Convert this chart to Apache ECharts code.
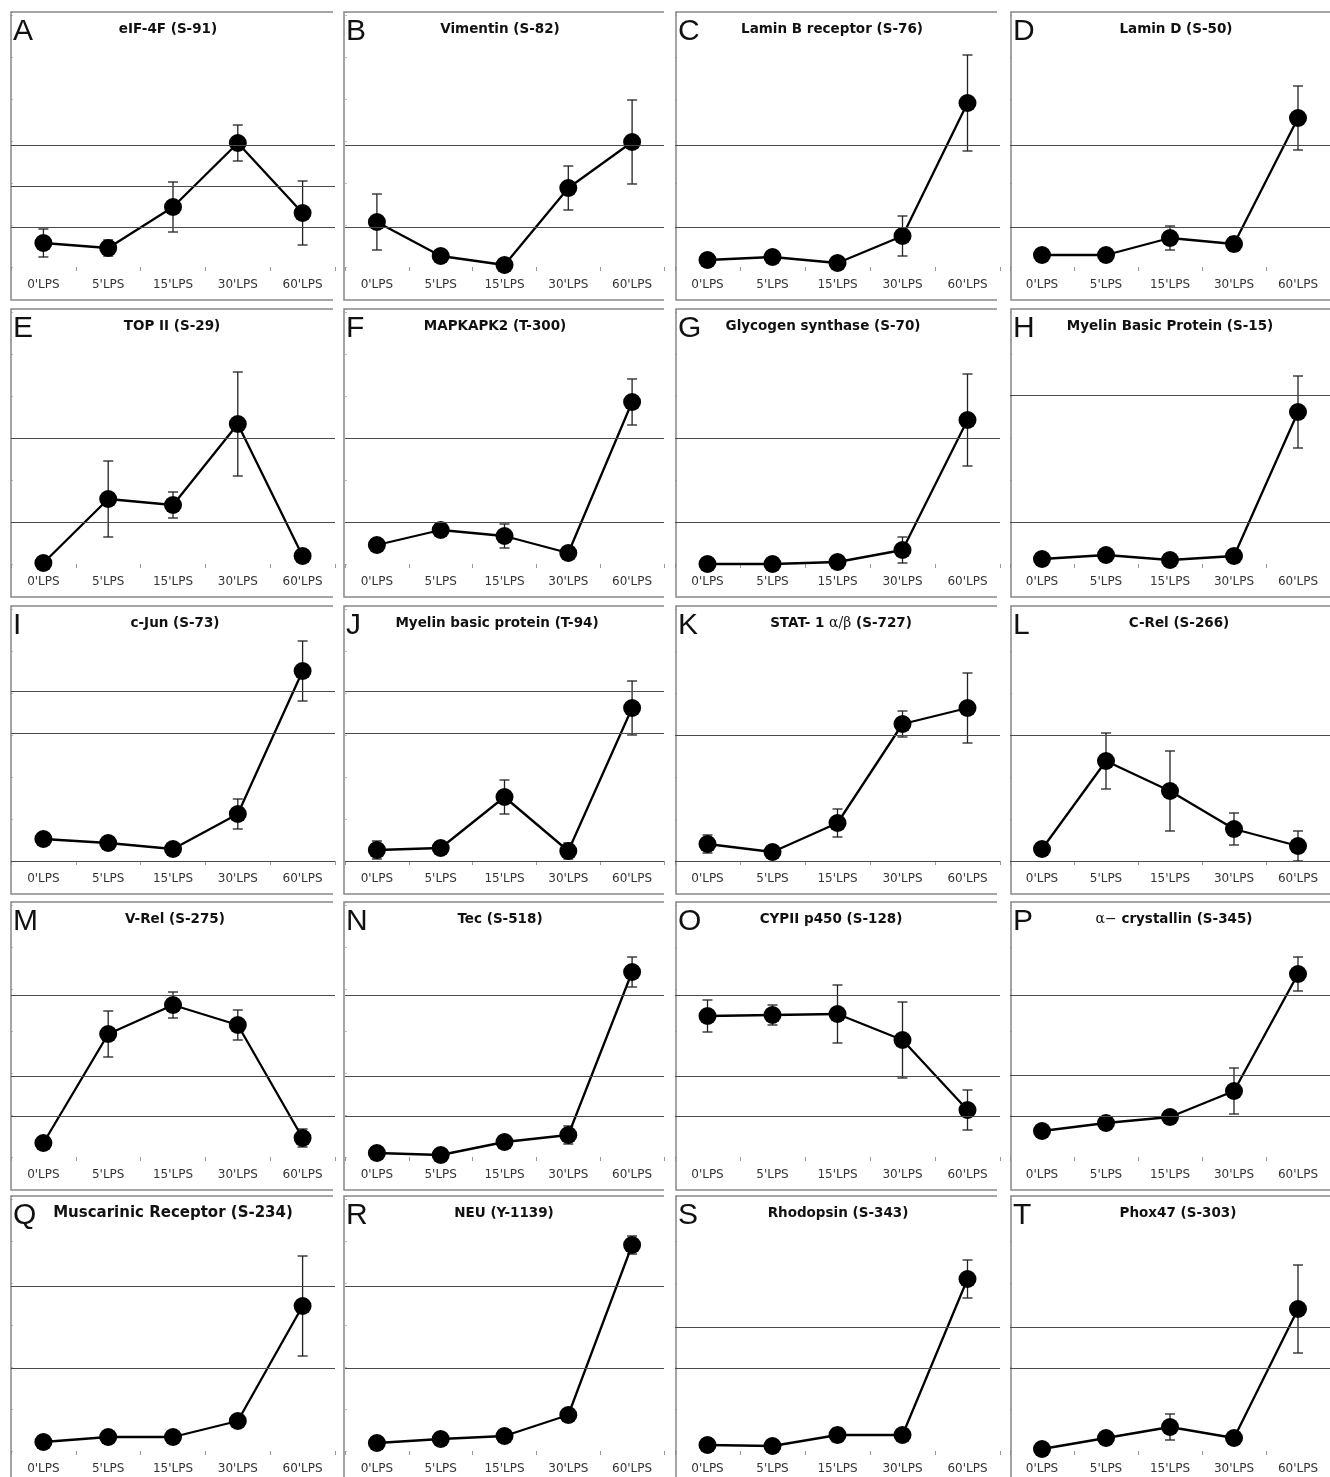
<!DOCTYPE html>
<html><head><meta charset="utf-8">
<script src="https://cdn.jsdelivr.net/npm/echarts@6/dist/echarts.min.js"></script>
<style>html,body{margin:0;padding:0;background:#fff}#c{width:1330px;height:1477px}</style>
</head><body><div id="c"></div>
<script>
// Relative phosphorylation (arbitrary units; 0 = panel baseline)
const categories = ["0'LPS", "5'LPS", "15'LPS", "30'LPS", "60'LPS"];
const letters = ['A','B','C','D','E','F','G','H','I','J','K','L','M','N','O','P','Q','R','S','T'];
const titles = [
  'eIF-4F (S-91)', 'Vimentin (S-82)', 'Lamin B receptor (S-76)', 'Lamin D (S-50)',
  'TOP II (S-29)', 'MAPKAPK2 (T-300)', 'Glycogen synthase (S-70)', 'Myelin Basic Protein (S-15)',
  'c-Jun (S-73)', 'Myelin basic protein (T-94)', '{b|STAT- 1 }{g|\u03b1/\u03b2}{b| (S-727)}', 'C-Rel (S-266)',
  'V-Rel (S-275)', 'Tec (S-518)', 'CYPII p450 (S-128)', '{g|\u03b1\u2212}{b| crystallin (S-345)}',
  'Muscarinic Receptor (S-234)', 'NEU (Y-1139)', 'Rhodopsin (S-343)', 'Phox47 (S-303)'
];

const meanA = [24, 19, 60, 124, 54];   const semA = [14, 8, 25, 18, 32];  const gridA = [40, 81, 122];
const meanB = [45, 11, 2, 79, 125];    const semB = [28, 0, 0, 22, 42];   const gridB = [40, 122];
const meanC = [7, 10, 4, 31, 164];     const semC = [0, 0, 0, 20, 48];    const gridC = [40, 122];
const meanD = [12, 12, 29, 23, 149];   const semD = [0, 0, 12, 7, 32];    const gridD = [40, 122];
const meanE = [1, 65, 59, 140, 8];     const semE = [0, 38, 13, 52, 0];   const gridE = [42, 126];
const meanF = [19, 34, 28, 11, 162];   const semF = [0, 0, 12, 0, 23];    const gridF = [42, 126];
const meanG = [0, 0, 2, 14, 144];      const semG = [0, 0, 0, 13, 46];    const gridG = [42, 126];
const meanH = [5, 9, 4, 8, 152];       const semH = [0, 0, 0, 0, 36];     const gridH = [42, 169];
const meanI = [22, 18, 12, 47, 190];   const semI = [0, 0, 0, 15, 30];    const gridI = [0, 128, 170];
const meanJ = [11, 13, 64, 10, 153];   const semJ = [9, 0, 17, 8, 27];    const gridJ = [0, 128, 170];
const meanK = [17, 9, 38, 137, 153];   const semK = [9, 0, 14, 13, 35];   const gridK = [0, 126];
const meanL = [12, 100, 70, 32, 15];   const semL = [0, 28, 40, 16, 15];  const gridL = [0, 126];
const meanM = [14, 123, 152, 132, 19]; const semM = [0, 23, 13, 15, 9];   const gridM = [41, 81, 162];
const meanN = [4, 2, 15, 22, 185];     const semN = [0, 0, 0, 9, 15];     const gridN = [41, 81, 162];
const meanO = [141, 142, 143, 117, 47];const semO = [16, 10, 29, 38, 20]; const gridO = [41, 81, 162];
const meanP = [26, 34, 40, 66, 183];   const semP = [0, 0, 4, 23, 17];    const gridP = [41, 82, 162];
const meanQ = [9, 14, 14, 30, 145];    const semQ = [0, 0, 0, 0, 50];     const gridQ = [83, 165];
const meanR = [8, 12, 15, 36, 206];    const semR = [0, 0, 0, 0, 9];      const gridR = [83, 165];
const meanS = [6, 5, 16, 16, 172];     const semS = [0, 0, 7, 0, 19];     const gridS = [83, 124];
const meanT = [2, 13, 24, 13, 142];    const semT = [0, 0, 13, 0, 44];    const gridT = [83, 124];

const means = [meanA, meanB, meanC, meanD, meanE, meanF, meanG, meanH, meanI, meanJ, meanK, meanL, meanM, meanN, meanO, meanP, meanQ, meanR, meanS, meanT];
const sems = [semA, semB, semC, semD, semE, semF, semG, semH, semI, semJ, semK, semL, semM, semN, semO, semP, semQ, semR, semS, semT];
const gridVals = [gridA, gridB, gridC, gridD, gridE, gridF, gridG, gridH, gridI, gridJ, gridK, gridL, gridM, gridN, gridO, gridP, gridQ, gridR, gridS, gridT];

// ---- layout ----
const colLeft = [11, 345, 675, 1010];
const colW = [324, 319, 325, 327];
const boxLeft = [11, 344, 676, 1011];
const boxW = [322, 320, 321, 330];
const rowTop = [12, 309, 606, 902, 1196];
const titleOffset = [157, 155, 157, 166, 161, 150, 148, 160, 164, 152, 166, 169, 164, 155, 156, 164, 162, 159, 163, 168];
const PLOT_H = 255, BOX_H = 288, Y_MAX = 255;
const BOLD = '"DejaVu Sans", sans-serif';

const chart = echarts.init(document.getElementById('c'));
const grids = [], xAxes = [], yAxes = [], series = [], graphics = [];

for (let i = 0; i < 20; i++) {
  const r = Math.floor(i / 4), c = i % 4;
  const top = rowTop[r];
  grids.push({ left: colLeft[c], top: top, width: colW[c], height: PLOT_H, containLabel: false });
  xAxes.push({
    type: 'category', gridIndex: i, data: categories, boundaryGap: true,
    axisLine: { show: false },
    axisTick: { show: true, length: 4, lineStyle: { color: '#999', width: 1 } },
    axisLabel: { interval: 0, margin: 12, color: '#333', fontSize: 12, fontFamily: '"DejaVu Sans", sans-serif' },
    splitLine: { show: false }
  });
  yAxes.push({
    type: 'value', gridIndex: i, min: 0, max: Y_MAX, interval: 42,
    axisLine: { show: false },
    axisTick: { show: true, inside: true, length: 2, lineStyle: { color: '#bbb' } },
    axisLabel: { show: false }, splitLine: { show: false }
  });
  series.push({
    type: 'line', xAxisIndex: i, yAxisIndex: i, data: means[i], clip: false,
    symbol: 'circle', symbolSize: 18, z: 4,
    itemStyle: { color: '#000' }, lineStyle: { color: '#000', width: 2.3 },
    markLine: {
      silent: true, symbol: 'none', animation: false,
      label: { show: false },
      lineStyle: { color: '#4a4a4a', width: 1, type: 'solid' },
      data: gridVals[i].map(v => ({ yAxis: v }))
    }
  });
  const errData = [];
  means[i].forEach((m, k) => { if (sems[i][k] > 0) errData.push([k, m - sems[i][k], m + sems[i][k]]); });
  series.push({
    type: 'custom', xAxisIndex: i, yAxisIndex: i, data: errData, clip: false, z: 3,
    encode: { x: 0, y: [1, 2] },
    renderItem: function (params, api) {
      const x = api.value(0);
      const p1 = api.coord([x, api.value(2)]);
      const p2 = api.coord([x, api.value(1)]);
      const hw = 5;
      const st = { stroke: '#222', lineWidth: 1.3 };
      return { type: 'group', children: [
        { type: 'line', shape: { x1: p1[0], y1: p1[1], x2: p2[0], y2: p2[1] }, style: st },
        { type: 'line', shape: { x1: p1[0] - hw, y1: p1[1], x2: p1[0] + hw, y2: p1[1] }, style: st },
        { type: 'line', shape: { x1: p2[0] - hw, y1: p2[1], x2: p2[0] + hw, y2: p2[1] }, style: st }
      ]};
    }
  });
  // panel frame: top, left, bottom
  const bx = boxLeft[c], bw = boxW[c];
  graphics.push({
    type: 'polyline', silent: true, z: 1,
    shape: { points: [[bx + bw, top], [bx, top], [bx, top + BOX_H], [bx + bw, top + BOX_H]] },
    style: { stroke: '#888', lineWidth: 1.5, fill: null }
  });
  // panel letter
  graphics.push({
    type: 'text', x: bx + 2, y: top + 20, z: 5,
    style: { text: letters[i], font: '30px "Liberation Sans", Arial, sans-serif', fill: '#111', textAlign: 'left', textVerticalAlign: 'middle' }
  });
  // panel title
  const fs = (i === 16) ? 15 : 13.5;
  const t = titles[i];
  const isRich = t.indexOf('{') === 0;
  graphics.push({
    type: 'text', x: colLeft[c] + titleOffset[i], y: top + 17, z: 5,
    style: isRich ? {
      text: t, textAlign: 'center', textVerticalAlign: 'middle', fill: '#111',
      rich: {
        b: { fontSize: fs, fontWeight: 'bold', fontFamily: BOLD, fill: '#111' },
        g: { fontSize: 14, fontWeight: 'normal', fontFamily: '"DejaVu Serif", serif', fill: '#111' }
      }
    } : {
      text: t, font: 'bold ' + fs + 'px ' + BOLD, fill: '#111', textAlign: 'center', textVerticalAlign: 'middle'
    }
  });
}

chart.setOption({
  animation: false,
  backgroundColor: '#fff',
  grid: grids, xAxis: xAxes, yAxis: yAxes, series: series,
  graphic: { elements: graphics }
});
</script>
</body></html>
